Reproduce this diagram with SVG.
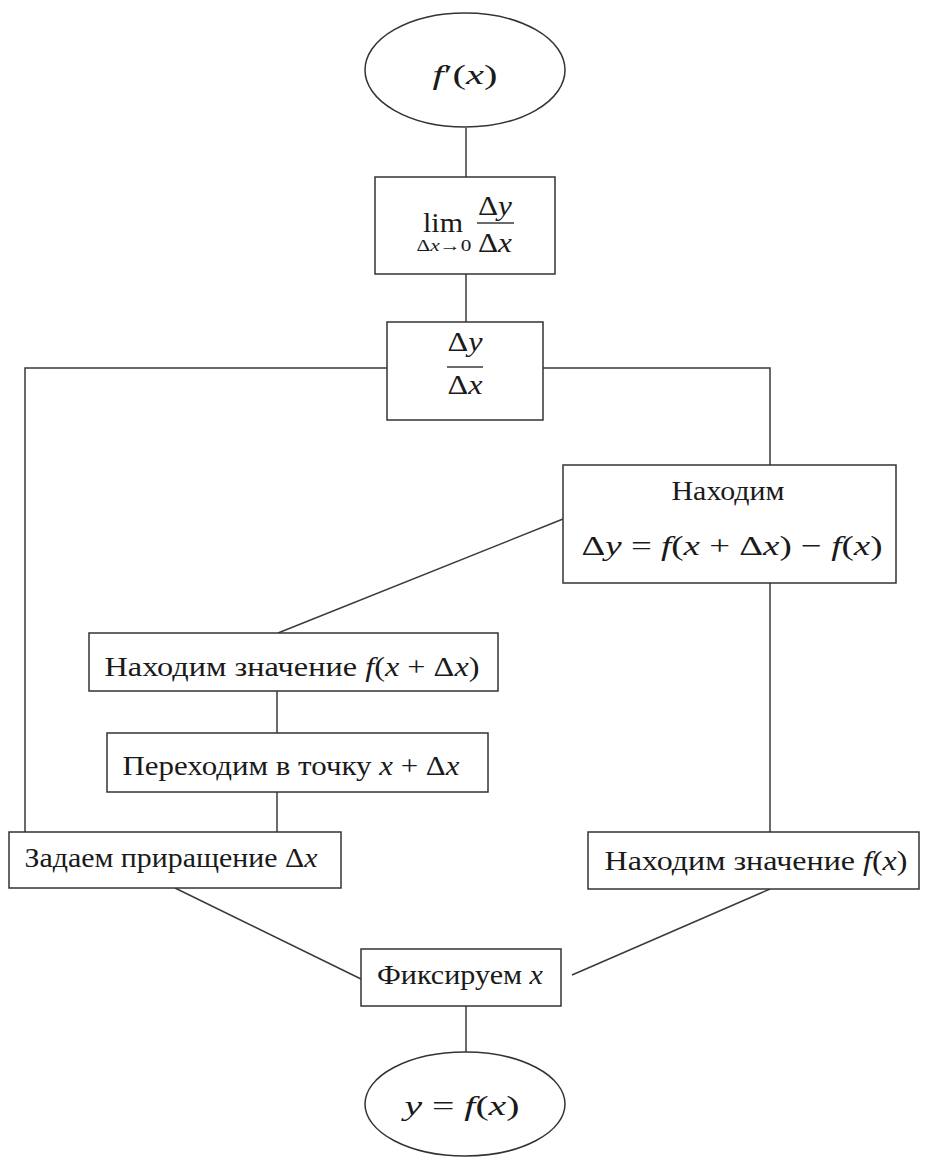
<svg xmlns="http://www.w3.org/2000/svg" width="925" height="1160" viewBox="0 0 925 1160">
  <style>
    .shape { fill: #ffffff; stroke: #333333; stroke-width: 1.5; }
    .link { fill: none; stroke: #3a3a3a; stroke-width: 1.5; }
    .txt { font-family: "Liberation Serif", "Times New Roman", serif; font-size: 28px; fill: #1a1a1a; text-anchor: middle; }
    .it { font-style: italic; }
    .frac { font-size: 27px; }
    .small { font-size: 16px; }
  </style>
  <rect width="925" height="1160" fill="#ffffff"/>

  <g id="connectors">
    <line class="link" x1="466" y1="128" x2="466" y2="177"/>
    <line class="link" x1="466" y1="274" x2="466" y2="322"/>
    <polyline class="link" points="387,368 25,368 25,832"/>
    <polyline class="link" points="543,368 770,368 770,465"/>
    <line class="link" x1="563" y1="519" x2="278" y2="633"/>
    <line class="link" x1="277" y1="691" x2="277" y2="733"/>
    <line class="link" x1="277" y1="792" x2="277" y2="832"/>
    <line class="link" x1="770" y1="583" x2="770" y2="832"/>
    <line class="link" x1="175" y1="888" x2="361" y2="979"/>
    <line class="link" x1="770" y1="889" x2="572" y2="975"/>
    <line class="link" x1="466" y1="1006" x2="466" y2="1053"/>
  </g>

  <g id="node-derivative">
    <ellipse class="shape" cx="465" cy="70" rx="100" ry="57"/>
    <text class="txt" x="465" y="84" textLength="65" lengthAdjust="spacingAndGlyphs"><tspan class="it">f</tspan>′(<tspan class="it">x</tspan>)</text>
  </g>

  <g id="node-limit">
    <rect class="shape" x="375" y="177" width="180" height="97"/>
    <text class="txt frac" x="443" y="232" textLength="40" lengthAdjust="spacingAndGlyphs">lim</text>
    <text class="txt small" x="444" y="251" textLength="55" lengthAdjust="spacingAndGlyphs">Δ<tspan class="it">x</tspan>→0</text>
    <text class="txt frac" x="495" y="215" textLength="34" lengthAdjust="spacingAndGlyphs">Δ<tspan class="it">y</tspan></text>
    <line class="link" x1="477" y1="223" x2="514" y2="223"/>
    <text class="txt frac" x="495" y="252" textLength="34" lengthAdjust="spacingAndGlyphs">Δ<tspan class="it">x</tspan></text>
  </g>

  <g id="node-ratio">
    <rect class="shape" x="387" y="322" width="156" height="98"/>
    <text class="txt frac" x="465" y="351" textLength="35" lengthAdjust="spacingAndGlyphs">Δ<tspan class="it">y</tspan></text>
    <line class="link" x1="447" y1="367" x2="483" y2="367"/>
    <text class="txt frac" x="465" y="394" textLength="35" lengthAdjust="spacingAndGlyphs">Δ<tspan class="it">x</tspan></text>
  </g>

  <g id="node-find-dy">
    <rect class="shape" x="563" y="465" width="333" height="118"/>
    <text class="txt" x="728" y="500" textLength="113" lengthAdjust="spacingAndGlyphs">Находим</text>
    <text class="txt" x="732" y="555" textLength="301" lengthAdjust="spacingAndGlyphs">Δ<tspan class="it">y</tspan> = <tspan class="it">f</tspan>(<tspan class="it">x</tspan> + Δ<tspan class="it">x</tspan>) − <tspan class="it">f</tspan>(<tspan class="it">x</tspan>)</text>
  </g>

  <g id="node-find-fxdx">
    <rect class="shape" x="89" y="633" width="409" height="58"/>
    <text class="txt" x="292" y="676" textLength="375" lengthAdjust="spacingAndGlyphs">Находим значение <tspan class="it">f</tspan>(<tspan class="it">x</tspan> + Δ<tspan class="it">x</tspan>)</text>
  </g>

  <g id="node-move">
    <rect class="shape" x="107" y="733" width="381" height="59"/>
    <text class="txt" x="291" y="775" textLength="337" lengthAdjust="spacingAndGlyphs">Переходим в точку <tspan class="it">x</tspan> + Δ<tspan class="it">x</tspan></text>
  </g>

  <g id="node-increment">
    <rect class="shape" x="9" y="832" width="332" height="56"/>
    <text class="txt" x="171" y="867" textLength="293" lengthAdjust="spacingAndGlyphs">Задаем приращение Δ<tspan class="it">x</tspan></text>
  </g>

  <g id="node-find-fx">
    <rect class="shape" x="588" y="832" width="331" height="57"/>
    <text class="txt" x="756" y="870" textLength="303" lengthAdjust="spacingAndGlyphs">Находим значение <tspan class="it">f</tspan>(<tspan class="it">x</tspan>)</text>
  </g>

  <g id="node-fix-x">
    <rect class="shape" x="361" y="949" width="200" height="57"/>
    <text class="txt" x="460" y="984" textLength="166" lengthAdjust="spacingAndGlyphs">Фиксируем <tspan class="it">x</tspan></text>
  </g>

  <g id="node-function">
    <ellipse class="shape" cx="465" cy="1104" rx="100" ry="52"/>
    <text class="txt" x="462" y="1115" textLength="115" lengthAdjust="spacingAndGlyphs"><tspan class="it">y</tspan> = <tspan class="it">f</tspan>(<tspan class="it">x</tspan>)</text>
  </g>
</svg>
